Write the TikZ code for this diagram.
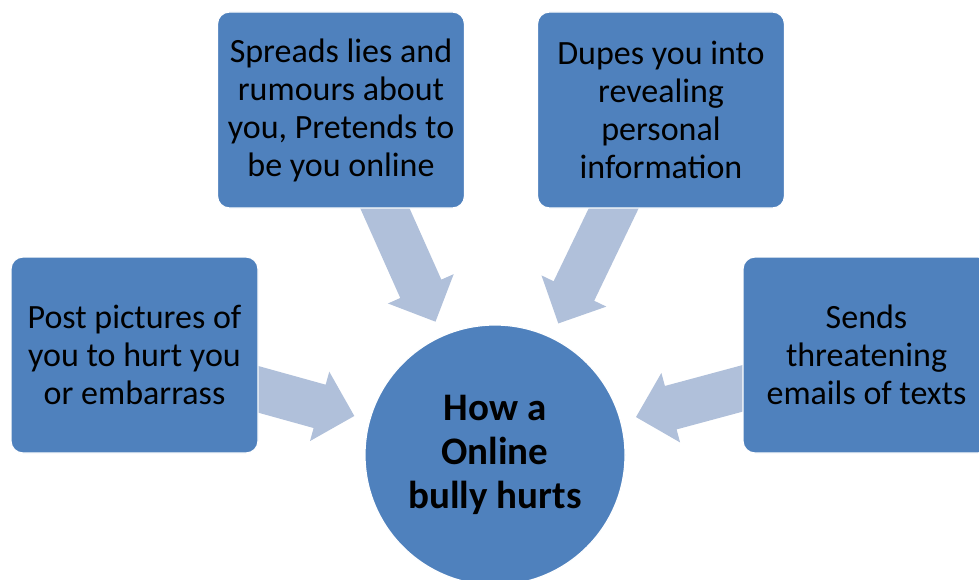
\documentclass[tikz,border=0pt]{standalone}
\usepackage{fontspec}
\setmainfont{Carlito}
\usetikzlibrary{calc,backgrounds}
\definecolor{boxblue}{HTML}{4F81BD}
\definecolor{arrowblue}{HTML}{B0C0DA}

% block arrow from box #1 towards hub #2, drawn behind the shapes
\newcommand\pointer[2]{%
  \path ($(#2.center)!146pt!(#1.center)$) coordinate (#1-tip)
        ($(#2.center)!182pt!(#1.center)$) coordinate (#1-base)
        ($(#2.center)!300pt!(#1.center)$) coordinate (#1-tail);
  \fill[blockarrow]
    ($(#1-tail)!22.5pt!90:(#1-tip)$) --
    ($(#1-base)!22.5pt!90:(#1-tip)$) --
    ($(#1-base)!36pt!90:(#1-tip)$) --
    (#1-tip) --
    ($(#1-base)!36pt!-90:(#1-tip)$) --
    ($(#1-base)!22.5pt!-90:(#1-tip)$) --
    ($(#1-tail)!22.5pt!-90:(#1-tip)$) -- cycle;
}

\begin{document}
\begin{tikzpicture}[x=1pt,y=-1pt,
  item/.style={rounded corners=12pt, fill=boxblue, draw=white, line width=1.2pt,
    minimum width=247pt, minimum height=196pt, inner sep=0pt, align=center,
    text=black, font=\fontsize{34}{38}\selectfont},
  hub/.style={circle, fill=boxblue, draw=white, line width=1.2pt,
    minimum size=260pt, inner sep=0pt, align=center, text=black,
    font=\fontsize{39}{44}\selectfont\bfseries},
  blockarrow/.style={fill=arrowblue}]
\useasboundingbox (0,0) rectangle (979,580);
\clip (0,0) rectangle (979,580);

\node[hub] (hub) at (495,455) {How a\\Online\\bully hurts};

\node[item] (tl) at (341,110) {Spreads lies and\\rumours about\\you, Pretends to\\be you online};
\node[item] (tr) at (661,110) {Dupes you into\\revealing\\personal\\information};
\node[item] (lf) at (134.5,355) {Post pictures of\\you to hurt you\\or embarrass};
\node[item] (rt) at (866.5,355) {Sends\\threatening\\emails of texts};

\begin{scope}[on background layer]
  \pointer{tl}{hub}
  \pointer{tr}{hub}
  \pointer{lf}{hub}
  \pointer{rt}{hub}
\end{scope}
\end{tikzpicture}
\end{document}
